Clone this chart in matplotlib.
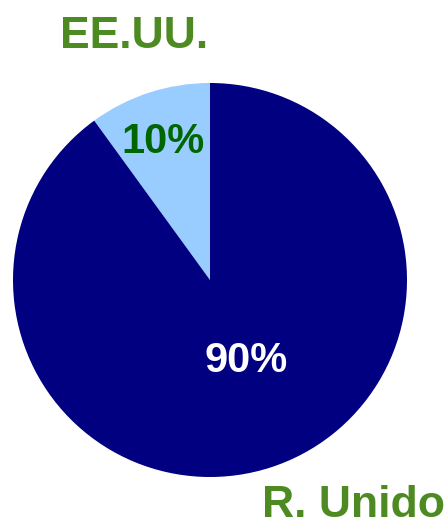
import matplotlib.pyplot as plt

# Data
labels = ['EE.UU.', 'R. Unido']
shares = [10, 90]
slice_colors = ['#99CCFF', '#000080']
pct_colors = ['#006600', '#FFFFFF']

W, H = 447, 522
fig = plt.figure(figsize=(W / 100, H / 100), dpi=100)
ax = fig.add_axes([0, 0, 1, 1])

# Pie in pixel-like coordinates (y up)
wedges, _ = ax.pie(shares, colors=slice_colors, startangle=90, counterclock=True,
                   center=(210, H - 280), radius=197,
                   wedgeprops=dict(linewidth=0))
ax.set_xlim(0, W)
ax.set_ylim(0, H)
ax.set_aspect('equal')
ax.axis('off')

font = 'Liberation Sans'

# Percent labels inside slices
ax.text(163, H - 153, f'{shares[0]}%', ha='center', va='baseline', fontsize=30,
        fontweight='bold', color=pct_colors[0], family=font)
ax.text(246, H - 372, f'{shares[1]}%', ha='center', va='baseline', fontsize=30,
        fontweight='bold', color=pct_colors[1], family=font)

# Category labels outside
label_green = '#4E8A22'
ax.text(134, H - 48, labels[0], ha='center', va='baseline', fontsize=32,
        fontweight='bold', color=label_green, family=font)
ax.text(262, H - 517, labels[1], ha='left', va='baseline', fontsize=32,
        fontweight='bold', color=label_green, family=font)

plt.savefig('out.png', dpi=100)
